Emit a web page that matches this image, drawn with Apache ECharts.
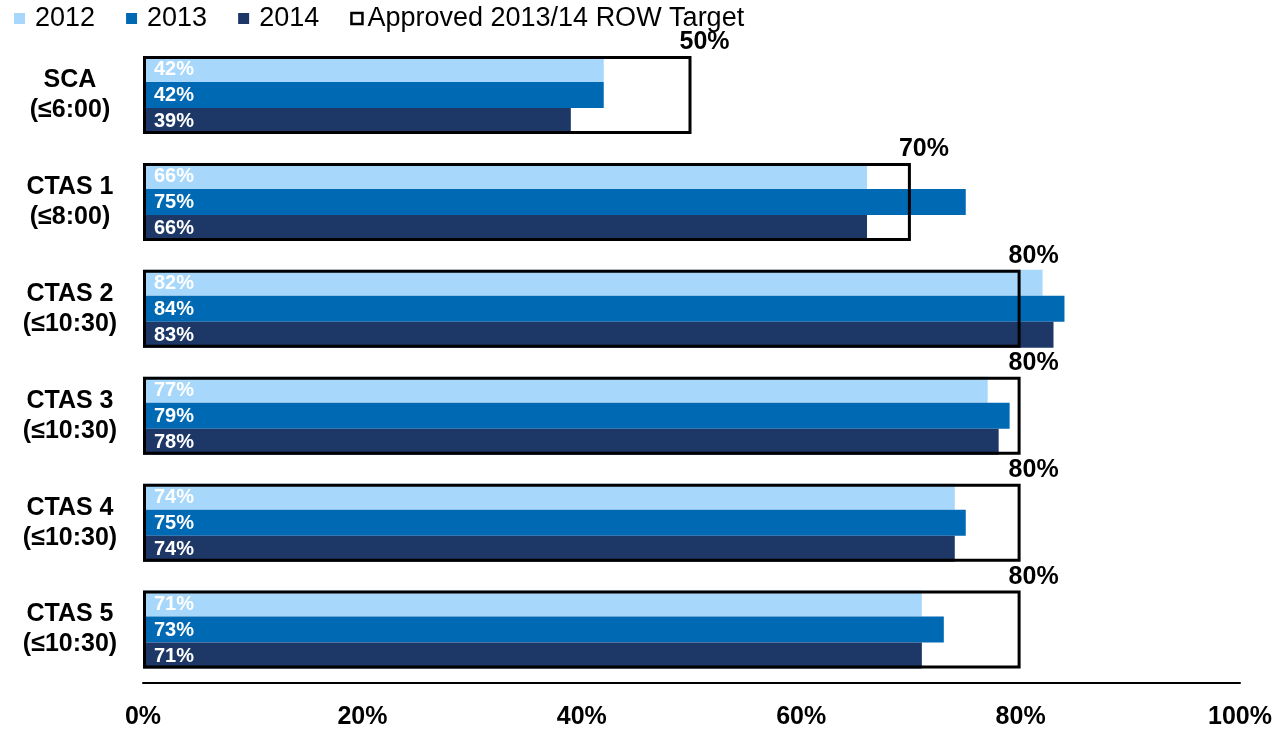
<!DOCTYPE html>
<html>
<head>
<meta charset="utf-8">
<script src="https://cdn.jsdelivr.net/npm/echarts@6/dist/echarts.min.js"></script>
<style>
  html, body { margin: 0; padding: 0; background: #fff; }
  #chart { width: 1279px; height: 731px; }
</style>
</head>
<body>
<div id="chart"></div>
<script>
// Share of flights within each time limit, by year, against the approved target
const categories = ['SCA\n(≤6:00)', 'CTAS 1\n(≤8:00)', 'CTAS 2\n(≤10:30)', 'CTAS 3\n(≤10:30)', 'CTAS 4\n(≤10:30)', 'CTAS 5\n(≤10:30)'];
const values2012 = [42, 66, 82, 77, 74, 71];
const values2013 = [42, 75, 84, 79, 75, 73];
const values2014 = [39, 66, 83, 78, 74, 71];
const targets = [50, 70, 80, 80, 80, 80];
const xTicks = [0, 20, 40, 60, 80, 100];

const FONT = '"Liberation Sans", Arial, sans-serif';
const COLORS = { y2012: '#A7D8FB', y2013: '#0069B4', y2014: '#1D3767' };

const barLabel = {
  show: true,
  position: 'insideLeft',
  distance: 11,
  color: '#fff',
  fontFamily: FONT,
  fontWeight: 'bold',
  fontSize: 20,
  offset: [0, 1],
  formatter: p => p.value + '%'
};

function yearSeries(name, data, color) {
  return {
    name, type: 'bar', data, yAxisIndex: 0,
    barWidth: 26, barGap: 0,
    itemStyle: { color },
    label: barLabel,
    emphasis: { disabled: true },
    z: 2
  };
}

const chart = echarts.init(document.getElementById('chart'), null, { renderer: 'canvas' });
chart.setOption({
  animation: false,
  textStyle: { fontFamily: FONT },
  grid: { left: 143, right: 39, top: 41.5, bottom: 48, containLabel: false },
  legend: {
    left: 14, top: 5, padding: 0,
    itemWidth: 11, itemHeight: 11, itemGap: 31,
    textStyle: { fontFamily: FONT, fontSize: 27, color: '#000' },
    data: [
      { name: '2012', icon: 'rect', textStyle: { padding: [0, 0, 0, 5] } },
      { name: '2013', icon: 'rect', textStyle: { padding: [0, 0, 0, 5] } },
      { name: '2014', icon: 'rect', textStyle: { padding: [0, 0, 0, 5] } },
      { name: 'Approved 2013/14 ROW Target', icon: 'rect',
        itemStyle: { color: '#fff', borderColor: '#000', borderWidth: 2.5 } }
    ]
  },
  xAxis: {
    type: 'value', min: 0, max: 100, interval: 20,
    axisLine: { show: true, lineStyle: { color: '#000', width: 2 } },
    axisTick: { show: false },
    splitLine: { show: false },
    axisLabel: {
      margin: 22, color: '#000', fontFamily: FONT, fontWeight: 'bold', fontSize: 25,
      formatter: v => xTicks.includes(v) ? v + '%' : ''
    }
  },
  yAxis: [
    {
      type: 'category', data: categories, inverse: true,
      axisLine: { show: false }, axisTick: { show: false },
      axisLabel: {
        margin: 73, align: 'center', color: '#000',
        fontFamily: FONT, fontWeight: 'bold', fontSize: 25, lineHeight: 30
      }
    },
    {
      type: 'category', data: categories, inverse: true, show: false
    }
  ],
  series: [
    yearSeries('2012', values2012, COLORS.y2012),
    yearSeries('2013', values2013, COLORS.y2013),
    yearSeries('2014', values2014, COLORS.y2014),
    {
      name: 'Approved 2013/14 ROW Target', type: 'bar', data: targets, yAxisIndex: 1,
      barWidth: 78,
      itemStyle: { color: 'rgba(0,0,0,0)', borderColor: '#000', borderWidth: 3 },
      label: {
        show: true,
        position: ['100%', 0],
        align: 'left', verticalAlign: 'bottom',
        offset: [-12, -1],
        color: '#000', fontFamily: FONT, fontWeight: 'bold', fontSize: 25,
        formatter: p => p.value + '%'
      },
      emphasis: { disabled: true },
      z: 5
    }
  ]
});
</script>
</body>
</html>
